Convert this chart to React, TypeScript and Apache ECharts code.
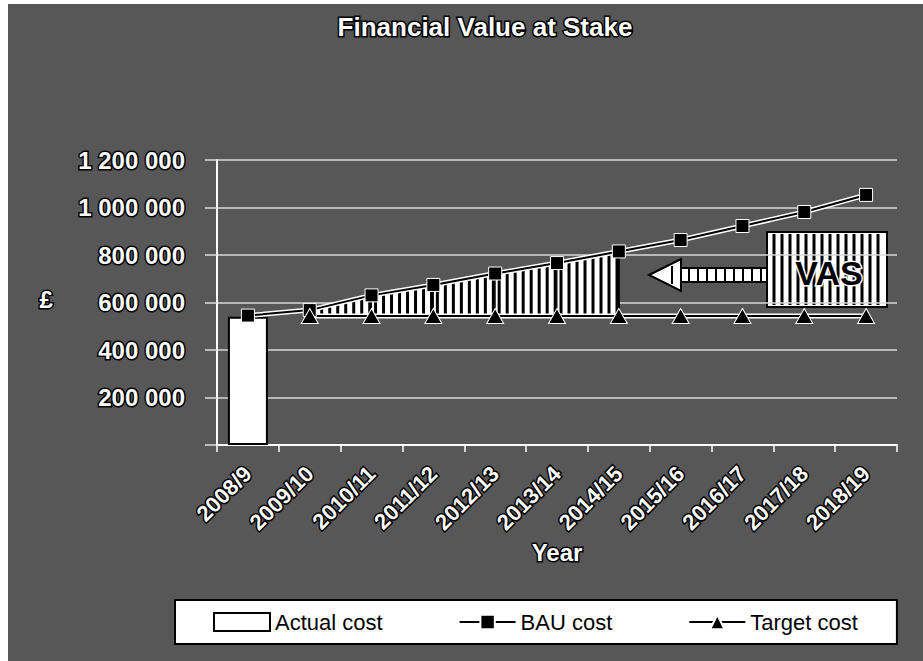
import React, { useEffect, useRef } from 'react';
import * as echarts from 'echarts';

// ---- data ----
const categories = ['2008/9', '2009/10', '2010/11', '2011/12', '2012/13', '2013/14', '2014/15', '2015/16', '2016/17', '2017/18', '2018/19'];
const actualCost = [540000, null, null, null, null, null, null, null, null, null, null];
const bauCost = [545000, 568000, 630000, 674000, 722000, 766000, 815000, 863000, 922000, 981000, 1053000];
const targetCost = [null, 543000, 543000, 543000, 543000, 543000, 543000, 543000, 543000, 543000, 543000];
const vasFromIndex = 1; // hatched "value at stake" area: from 2009/10
const vasToIndex = 6;   // to 2014/15
const titleText = 'Financial Value at Stake';
const yAxisTitle = '£';
const xAxisTitle = 'Year';
const vasLabel = 'VAS';

const FONT = '"Liberation Sans", Arial, Helvetica, sans-serif';
const outlined = {
  color: '#fff',
  fontWeight: 'bold' as const,
  fontFamily: FONT,
  textBorderColor: '#000',
  textBorderWidth: 3,
};

function fmtThousands(v: number): string {
  if (v === 0) return '';
  return String(v).replace(/\B(?=(\d{3})+(?!\d))/g, ' ');
}

const hatchSegments: number[][] = [];
for (let i = vasFromIndex; i < vasToIndex; i++) {
  hatchSegments.push([i, bauCost[i], targetCost[i] as number, bauCost[i + 1], targetCost[i + 1] as number]);
}

function renderHatch(params: any, api: any) {
  const i = api.value(0);
  const a = api.coord([i, api.value(1)]);
  const b = api.coord([i, api.value(2)]);
  const c = api.coord([i + 1, api.value(3)]);
  const d = api.coord([i + 1, api.value(4)]);
  const children: any[] = [
    {
      type: 'polygon',
      shape: { points: [a, c, d, b] },
      style: { fill: '#fff', stroke: '#000', lineWidth: 1 },
    },
  ];
  const w = c[0] - a[0];
  for (let x = a[0] + 4; x < c[0] - 1; x += 8) {
    const t = (x - a[0]) / w;
    const yTop = a[1] + t * (c[1] - a[1]);
    const yBot = b[1] + t * (d[1] - b[1]);
    children.push({
      type: 'line',
      shape: { x1: x, y1: yTop, x2: x, y2: yBot },
      style: { stroke: '#000', lineWidth: 3 },
    });
  }
  if (i === vasToIndex - 1) {
    children.push({
      type: 'line',
      shape: { x1: c[0], y1: c[1], x2: d[0], y2: d[1] },
      style: { stroke: '#000', lineWidth: 2 },
    });
  }
  return { type: 'group', children };
}

function buildVasBox() {
  const x0 = 759, y0 = 228, w = 120, h = 75;
  const children: any[] = [
    { type: 'rect', shape: { x: x0, y: y0, width: w, height: h }, style: { fill: '#fff', stroke: '#000', lineWidth: 2 } },
  ];
  for (let x = x0 + 7; x < x0 + w - 3; x += 8) {
    children.push({ type: 'line', shape: { x1: x, y1: y0 + 2, x2: x, y2: y0 + h - 2 }, style: { stroke: '#000', lineWidth: 3 } });
  }
  children.push({
    type: 'text',
    x: x0 + w / 2 + 2,
    y: y0 + h / 2 + 3,
    style: {
      text: vasLabel,
      font: 'bold 34px ' + FONT,
      fill: '#000',
      stroke: '#fff',
      lineWidth: 3,
      align: 'center',
      verticalAlign: 'middle',
    },
  });
  return { type: 'group', children, z: 20 };
}

function buildArrow() {
  const children: any[] = [];
  const sx0 = 672, sx1 = 759, sy0 = 264, sy1 = 278;
  children.push({ type: 'rect', shape: { x: sx0, y: sy0, width: sx1 - sx0, height: sy1 - sy0 }, style: { fill: '#fff', stroke: '#000', lineWidth: 2 } });
  for (let x = sx0 + 9; x < sx1; x += 9) {
    children.push({ type: 'line', shape: { x1: x, y1: sy0, x2: x, y2: sy1 }, style: { stroke: '#000', lineWidth: 2 } });
  }
  children.push({
    type: 'polygon',
    shape: { points: [[641, 271], [673, 255], [673, 287]] },
    style: { fill: '#fff', stroke: '#000', lineWidth: 2 },
  });
  children.push({
    type: 'line',
    shape: { x1: 664, y1: 262, x2: 664, y2: 280 },
    style: { stroke: '#000', lineWidth: 2 },
  });
  return { type: 'group', children, z: 20 };
}

export default function App() {
  const ref = useRef<HTMLDivElement>(null);
  useEffect(() => {
    if (!ref.current) return;
    const chart = echarts.init(ref.current, undefined, { renderer: 'svg' });
    const option: any = {
      animation: false,
      backgroundColor: '#575757',
      title: {
        text: titleText,
        left: 477,
        top: 10,
        textAlign: 'center',
        padding: 0,
        textStyle: { ...outlined, fontSize: 26 },
      },
      grid: { left: 209, right: 26, top: 156, bottom: 216, containLabel: false },
      legend: {
        data: [{ name: 'Actual cost', icon: 'rect' }, 'BAU cost', 'Target cost'],
        left: 167,
        top: 596,
        orient: 'horizontal',
        backgroundColor: '#fff',
        borderColor: '#000',
        borderWidth: 2,
        padding: [11, 39, 11, 38],
        itemGap: 76,
        itemWidth: 56,
        itemHeight: 18,
        textStyle: { color: '#000', fontSize: 22, fontFamily: FONT },
      },
      xAxis: {
        type: 'category',
        data: categories,
        boundaryGap: true,
        name: xAxisTitle,
        nameLocation: 'middle',
        nameGap: 94,
        nameTextStyle: { ...outlined, fontSize: 24 },
        axisLine: { show: true, lineStyle: { color: '#fff', width: 2 } },
        axisTick: { show: true, length: 7, lineStyle: { color: '#fff', width: 1.5 } },
        axisLabel: { ...outlined, fontSize: 22, rotate: 45, margin: 25, interval: 0 },
        splitLine: { show: false },
      },
      yAxis: {
        type: 'value',
        min: 0,
        max: 1200000,
        interval: 200000,
        axisLine: { show: true, lineStyle: { color: '#fff', width: 2 } },
        axisTick: { show: true, length: 12, lineStyle: { color: '#ddd', width: 1.5 } },
        axisLabel: { ...outlined, fontSize: 24, margin: 32, formatter: (v: number) => fmtThousands(v) },
        splitLine: { show: true, lineStyle: { color: '#d8d8d8', width: 1.5 } },
      },
      graphic: [
        {
          type: 'text',
          left: 30,
          top: 282,
          style: { text: yAxisTitle, font: 'bold 24px ' + FONT, fill: '#fff', stroke: '#000', lineWidth: 3 },
        },
        buildArrow(),
        buildVasBox(),
      ],
      series: [
        {
          name: 'Actual cost',
          type: 'bar',
          data: actualCost,
          barWidth: 40,
          z: 2,
          itemStyle: { color: '#fff', borderColor: '#000', borderWidth: 2 },
        },
        {
          name: 'VAS area',
          type: 'custom',
          data: hatchSegments,
          renderItem: renderHatch,
          encode: { x: 0, y: 1 },
          z: 3,
          silent: true,
        },
        {
          name: 'BAU halo',
          type: 'line',
          data: bauCost,
          symbol: 'none',
          z: 4,
          silent: true,
          lineStyle: { color: '#fff', width: 5 },
        },
        {
          name: 'Target halo',
          type: 'line',
          data: targetCost,
          symbol: 'none',
          z: 4,
          silent: true,
          lineStyle: { color: '#fff', width: 5 },
        },
        {
          name: 'BAU cost',
          type: 'line',
          data: bauCost,
          symbol: 'rect',
          symbolSize: 13,
          z: 5,
          lineStyle: { color: '#000', width: 2 },
          itemStyle: { color: '#000', borderColor: '#fff', borderWidth: 1 },
        },
        {
          name: 'Target cost',
          type: 'line',
          data: targetCost,
          symbol: 'triangle',
          symbolSize: [17, 15],
          z: 5,
          lineStyle: { color: '#000', width: 2 },
          itemStyle: { color: '#000', borderColor: '#fff', borderWidth: 1 },
        },
      ],
    };
    chart.setOption(option);
    return () => chart.dispose();
  }, []);
  return (
    <div
      ref={ref}
      style={{ position: 'fixed', left: 8, top: 4, width: 915, height: 657 }}
    />
  );
}
